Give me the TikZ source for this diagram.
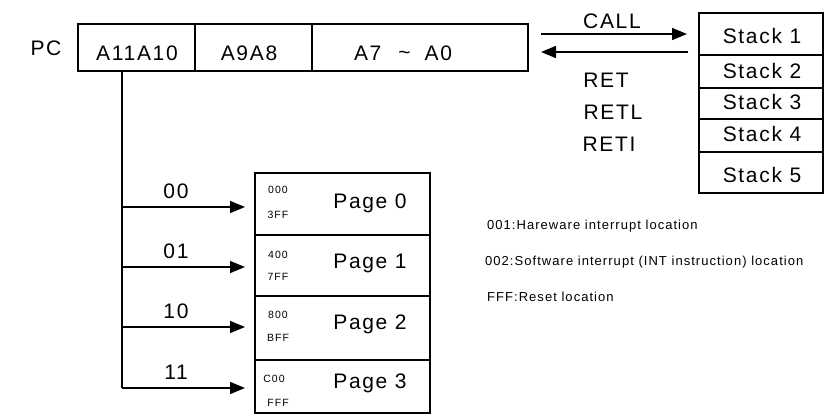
\documentclass[tikz,border=0pt]{standalone}
\usepackage{fontspec}
\setmainfont{Liberation Sans}
\usetikzlibrary{arrows.meta,calc}
\begin{document}
\begin{tikzpicture}[x=1pt,y=-1pt,
  box/.style={draw,line width=1.4pt,inner sep=0pt,outer sep=0pt},
  big/.style={font=\fontsize{21}{21}\selectfont\addfontfeatures{LetterSpace=8},inner sep=0pt},
  tiny/.style={font=\fontsize{10.5}{10.5}\selectfont\addfontfeatures{LetterSpace=10},inner sep=0pt},
  note/.style={font=\fontsize{13}{13}\selectfont\addfontfeatures{LetterSpace=8},inner sep=0pt,anchor=west},
  arr/.style={line width=1.4pt,-{Triangle[length=15pt,width=12pt]}}]
\useasboundingbox (0,0) rectangle (827,415);
% PC register
\node[big] (pc) at (46,48) {PC};
\node[box,minimum width=117pt,minimum height=47pt] (r1) at (136.5,47.5) {};
\node[box,minimum width=117pt,minimum height=47pt] (r2) at (253.5,47.5) {};
\node[box,minimum width=216pt,minimum height=47pt] (r3) at (420,47.5) {};
\node[big] (t1) at (137,53) {A11A10};
\node[big] (t2) at (249,53) {A9A8};
\node[big] (t3) at (403,53) {A7\hspace{17pt}\raisebox{1pt}{\textasciitilde}\hspace{14pt}A0};
% Stack
\node[box,minimum width=124pt,minimum height=42pt] (s1) at (761,34) {};
\node[box,minimum width=124pt,minimum height=33pt] (s2) at (761,71.5) {};
\node[box,minimum width=124pt,minimum height=31pt] (s3) at (761,103.5) {};
\node[box,minimum width=124pt,minimum height=33pt] (s4) at (761,135.5) {};
\node[box,minimum width=124pt,minimum height=41pt] (s5) at (761,172.5) {};
\foreach \i/\y in {1/36,2/71,3/102,4/134,5/175}
  \node[big] (st\i) at (762,\y) {Stack \i};
% CALL / RET
\coordinate (c1) at ($(r3.east)+(13,-13.5)$);
\coordinate (c2) at ($(s1.west)+(-12,0)$);
\draw[arr] (c1) -- (c2);
\coordinate (d1) at ($(s1.west)+(-11,18)$);
\coordinate (d2) at ($(r3.east)+(13,4.5)$);
\draw[arr] (d1) -- (d2);
\node[big] (call) at (612,21) {CALL};
\node[big] (ret) at (606,80) {RET};
\node[big] (retl) at (613,112) {RETL};
\node[big] (reti) at (609,144) {RETI};
% Pages
\node[box,minimum width=175pt,minimum height=62pt] (p0) at (342.5,204) {};
\node[box,minimum width=175pt,minimum height=61pt] (p1) at (342.5,265.5) {};
\node[box,minimum width=175pt,minimum height=64pt] (p2) at (342.5,328) {};
\node[box,minimum width=175pt,minimum height=53pt] (p3) at (342.5,386.5) {};
\foreach \i/\y in {0/203,1/263,2/324,3/383}{
  \node[big] (pg\i) at (370,\y) {Page \i};
}
\node[tiny] (a0) at (278,190) {000};
\node[tiny] (b0) at (278,215) {3FF};
\node[tiny] (a1) at (278,255) {400};
\node[tiny] (b1) at (278,277) {7FF};
\node[tiny] (a2) at (278,315) {800};
\node[tiny] (b2) at (278,338) {BFF};
\node[tiny] (a3) at (274,379) {C00};
\node[tiny] (b3) at (278,403) {FFF};
% trunk and page arrows
\coordinate (top) at (122,71);
\coordinate (bot) at (122,388);
\draw[line width=1.4pt] (top) -- (bot);
\foreach \i/\y/\l in {0/207/00,1/267/01,2/327/10,3/388/11}{
  \coordinate (k\i) at (122,\y);
  \draw[arr,shorten >=10pt] (k\i) -- (k\i -| p\i.west);
  \node[big] (l\i) at (176,\y-16) {\l};
}
% notes
\node[note] (n1) at (487,226) {001:Hareware interrupt location};
\node[note] (n2) at (485,262) {002:Software interrupt (INT instruction) location};
\node[note] (n3) at (487,297) {FFF:Reset location};
\end{tikzpicture}
\end{document}
